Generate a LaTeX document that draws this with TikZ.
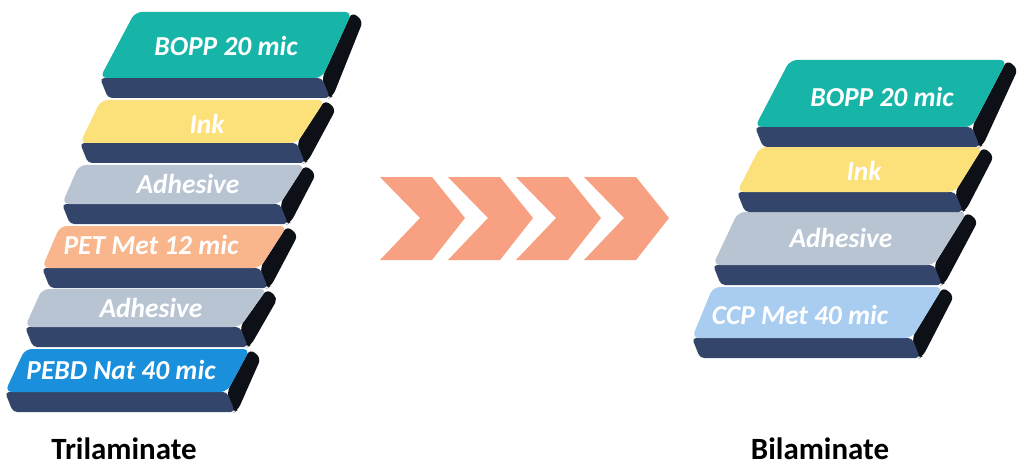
\documentclass[tikz,border=0pt]{standalone}
\usepackage{fontspec}
\setmainfont{Carlito}
\usepackage{tikz}
\usetikzlibrary{positioning}

\definecolor{bopp}{HTML}{17B5A7}
\definecolor{ink}{HTML}{FCE17A}
\definecolor{adhesive}{HTML}{B9C4D3}
\definecolor{pet}{HTML}{F9B58C}
\definecolor{pebd}{HTML}{1A8FDB}
\definecolor{ccp}{HTML}{A8CDF1}
\definecolor{frontside}{HTML}{33456A}
\definecolor{darkside}{HTML}{0E1018}
\definecolor{chevron}{HTML}{F7A182}

\tikzset{
  layertext/.style={text=white, inner sep=0pt, font=\fontsize{19.5}{22}\selectfont\bfseries\itshape},
  title/.style={inner sep=0pt, font=\fontsize{22}{24}\selectfont\bfseries},
}

\begin{document}
\begin{tikzpicture}[x=0.025cm, y=-0.025cm]
    \useasboundingbox (0,0) rectangle (1024,472);

    % Draw layers, bottom one first
    \foreach \i/\tl/\tr/\ty/\bl/\br/\by/\c/\txt/\lx/\ly in {
      a6/25/250/349/5/227/392/pebd/PEBD Nat 40 mic/121/370,
      a5/42/267/289/25/240/327/adhesive/Adhesive/151/308,
      a4/60/287/226/42/260/268/pet/PET Met 12 mic/151/245,
      a3/79/305/165/62/280/204/adhesive/Adhesive/188/184,
      a2/101/325/100/80/297/143/ink/Ink/207/124,
      a1/135/352/12/100/322/78/bopp/BOPP 20 mic/226/46,
      b4/713/943/287/692/912/338/ccp/CCP Met 40 mic/800/315,
      b3/738/967/212/713/934/265/adhesive/Adhesive/841/238,
      b2/760/983/147/737/955/192/ink/Ink/864/171,
      b1/790/1007/60/755/972/127/bopp/BOPP 20 mic/882/97} {
      % side, front and top faces
      \fill[darkside, rounded corners=4] (\tr,\ty) -- (\tr+11,\ty+9) -- (\br+11,\by+18) -- (\br+6,\by+21) -- (\br,\by) -- cycle;
      \fill[frontside, rounded corners=3] (\bl,\by) -- (\br,\by) -- (\br+8,\by+20) -- (\bl+8,\by+20) -- cycle;
      \fill[\c, rounded corners=5] (\tl,\ty) -- (\tr,\ty) -- (\br,\by) -- (\bl,\by) -- cycle;
      \node[layertext] (\i) at (\lx,\ly) {\txt};
    }

    % Chevrons between the stacks
    \foreach \i in {0,...,3} {
      \fill[chevron] (380+68*\i,177) -- (432+68*\i,177) -- (465+68*\i,218) -- (432+68*\i,260) -- (380+68*\i,260) -- (420+68*\i,218) -- cycle;
    }

    \node[title] (tri) at (124,449) {Trilaminate};
    \node[title] (bi) at (820,449) {Bilaminate};
\end{tikzpicture}
\end{document}
